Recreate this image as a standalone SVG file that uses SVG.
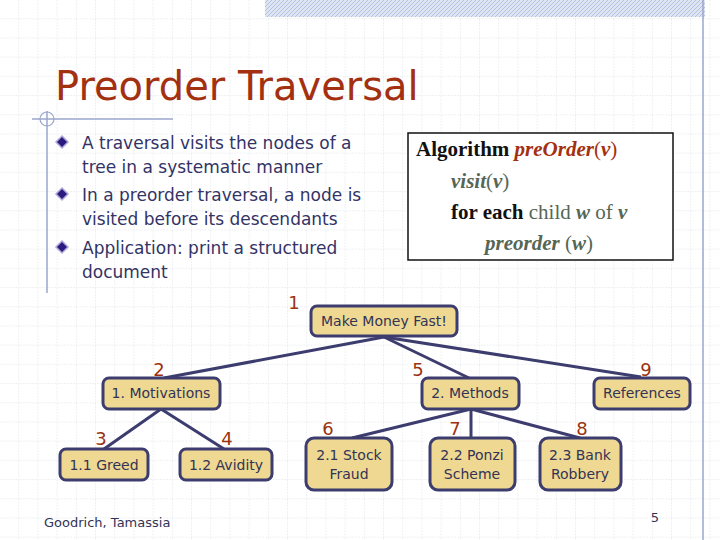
<svg xmlns="http://www.w3.org/2000/svg" width="720" height="540" viewBox="0 0 720 540">
<defs>
<pattern id="grid" width="19.2" height="19.2" patternUnits="userSpaceOnUse">
<path d="M19.2 0V19.2H0" fill="none" stroke="#d4d8e0" stroke-width="1" stroke-dasharray="1.5 1.5"/>
</pattern>
<pattern id="hatch" width="4" height="4" patternUnits="userSpaceOnUse">
<rect width="4" height="4" fill="#dde4f2"/><path d="M0 4L4 0" stroke="#b3c2e0" stroke-width="1"/>
</pattern>
<path id="dia" d="M0 -6L6 0L0 6L-6 0Z"/>
</defs>
<style>
.n rect{fill:#eed892;stroke:#3c3c6e;stroke-width:3}
.n text{font-family:"DejaVu Sans",sans-serif;font-size:14px;fill:#333355;text-anchor:middle}
.num{font-family:"DejaVu Sans",sans-serif;font-size:18px;fill:#993311;text-anchor:middle}
.b{font-family:"DejaVu Sans",sans-serif;font-size:17px;fill:#333366}
.alg{font-family:"Liberation Serif",serif;font-size:21px}
#edges line{stroke:#3c3c6e;stroke-width:3}
</style>
<rect width="720" height="540" fill="#fff"/>
<rect width="720" height="540" fill="url(#grid)"/>
<rect x="265" y="0" width="440" height="17" fill="url(#hatch)"/>
<line x1="703" y1="0" x2="703" y2="540" stroke="#9aa6cc" stroke-width="1.5"/>
<line x1="32" y1="119" x2="173" y2="119" stroke="#9aa6cc" stroke-width="1.5"/>
<line x1="47" y1="111" x2="47" y2="293" stroke="#9aa6cc" stroke-width="1.5"/>
<circle cx="47" cy="119" r="7" fill="none" stroke="#9aa6cc" stroke-width="1.2"/>
<text x="55" y="100" font-family="DejaVu Sans,sans-serif" font-size="40" fill="#a33010">Preorder Traversal</text>
<g fill="#2d1a80" stroke="#b0a8d8" stroke-width="1.5">
<use href="#dia" x="62" y="142"/><use href="#dia" x="62" y="194"/><use href="#dia" x="62" y="247"/>
</g>
<g class="b">
<text x="82" y="149">A traversal visits the nodes of a</text>
<text x="82" y="173">tree in a systematic manner</text>
<text x="82" y="201">In a preorder traversal, a node is</text>
<text x="82" y="225">visited before its descendants</text>
<text x="82" y="254">Application: print a structured</text>
<text x="82" y="278">document</text>
</g>
<g id="algo">
<rect x="408" y="133" width="265" height="127" fill="#fff" stroke="#111" stroke-width="1.5"/>
<text class="alg" x="416" y="156"><tspan font-weight="bold" fill="#111">Algorithm </tspan><tspan font-weight="bold" font-style="italic" fill="#a33010">preOrder</tspan><tspan fill="#a33010">(</tspan><tspan font-weight="bold" font-style="italic" fill="#a33010">v</tspan><tspan fill="#a33010">)</tspan></text>
<text class="alg" x="451" y="188" fill="#556655"><tspan font-weight="bold" font-style="italic">visit</tspan>(<tspan font-weight="bold" font-style="italic">v</tspan>)</text>
<text class="alg" x="451" y="219" fill="#556655"><tspan font-weight="bold" fill="#111">for each</tspan> child <tspan font-weight="bold" font-style="italic">w</tspan> of <tspan font-weight="bold" font-style="italic">v</tspan></text>
<text class="alg" x="485" y="250" fill="#556655"><tspan font-weight="bold" font-style="italic">preorder</tspan> (<tspan font-weight="bold" font-style="italic">w</tspan>)</text>
</g>
<g id="edges">
<line x1="384" y1="337" x2="164" y2="378"/>
<line x1="384" y1="337" x2="469" y2="378"/>
<line x1="384" y1="337" x2="641" y2="377"/>
<line x1="161" y1="409" x2="104" y2="449"/>
<line x1="161" y1="409" x2="224" y2="449"/>
<line x1="471" y1="409" x2="352" y2="438"/>
<line x1="471" y1="409" x2="471" y2="438"/>
<line x1="471" y1="409" x2="580" y2="438"/>
</g>
<g id="n1" class="n"><rect x="311" y="306" width="146" height="30" rx="6"/><text x="384" y="326">Make Money Fast!</text></g>
<g id="n2" class="n"><rect x="103" y="378" width="117" height="31" rx="6"/><text x="161" y="398">1. Motivations</text></g>
<g id="n5" class="n"><rect x="422" y="378" width="97" height="31" rx="6"/><text x="470" y="398">2. Methods</text></g>
<g id="n9" class="n"><rect x="594" y="378" width="96" height="31" rx="6"/><text x="642" y="398">References</text></g>
<g id="n3" class="n"><rect x="60" y="449" width="88" height="31" rx="6"/><text x="104" y="470">1.1 Greed</text></g>
<g id="n4" class="n"><rect x="180" y="449" width="92" height="31" rx="6"/><text x="226" y="470">1.2 Avidity</text></g>
<g id="n6" class="n"><rect x="306" y="438" width="86" height="52" rx="8"/><text x="349" y="460">2.1 Stock</text><text x="349" y="479">Fraud</text></g>
<g id="n7" class="n"><rect x="430" y="438" width="85" height="52" rx="8"/><text x="472" y="460">2.2 Ponzi</text><text x="472" y="479">Scheme</text></g>
<g id="n8" class="n"><rect x="540" y="438" width="81" height="52" rx="8"/><text x="580" y="460">2.3 Bank</text><text x="580" y="479">Robbery</text></g>
<g>
<text class="num" x="294" y="309">1</text><text class="num" x="159" y="376">2</text><text class="num" x="418" y="376">5</text><text class="num" x="646" y="376">9</text>
<text class="num" x="101" y="445">3</text><text class="num" x="227" y="445">4</text><text class="num" x="328" y="435">6</text><text class="num" x="455" y="435">7</text><text class="num" x="582" y="435">8</text>
</g>
<text x="44" y="527" font-family="DejaVu Sans,sans-serif" font-size="13" fill="#333355">Goodrich, Tamassia</text>
<text x="655" y="522" font-family="DejaVu Sans,sans-serif" font-size="13" fill="#333355" text-anchor="middle">5</text>
</svg>
